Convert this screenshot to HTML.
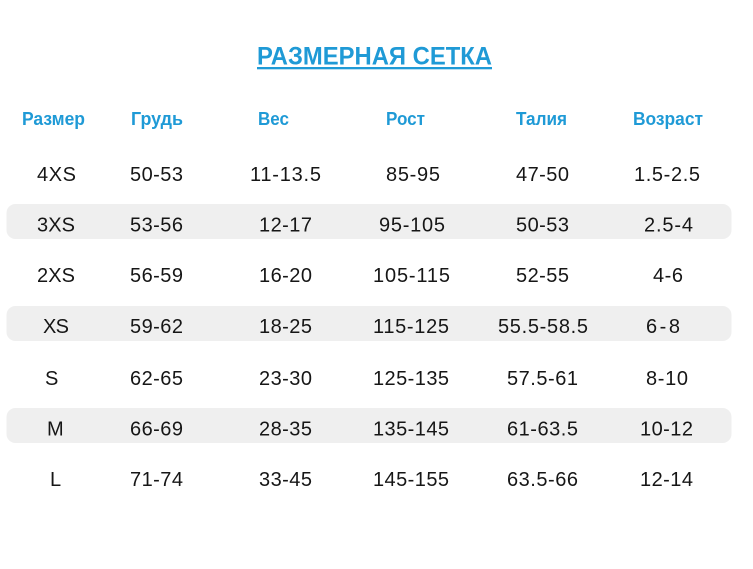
<!DOCTYPE html>
<html>
<head>
<meta charset="utf-8">
<style>
html,body{margin:0;padding:0;background:#fff;}
svg{display:block;}
.t{font-family:"Liberation Sans",sans-serif;font-weight:bold;fill:#1f9ad6;}
.h{font-family:"Liberation Sans",sans-serif;font-weight:bold;font-size:18px;fill:#1f9ad6;}
.d{font-family:"Liberation Sans",sans-serif;font-size:20px;fill:#161616;}
</style>
</head>
<body>
<svg width="753" height="569" viewBox="0 0 753 569" xmlns="http://www.w3.org/2000/svg">
<rect width="753" height="569" fill="#fff"/>
<!-- title -->
<text class="t" x="257" y="64.5" font-size="25" textLength="235" lengthAdjust="spacingAndGlyphs">РАЗМЕРНАЯ СЕТКА</text>
<rect x="257" y="67" width="235" height="2.3" fill="#1f9ad6"/>
<!-- gray rows -->
<rect x="6.5" y="204" width="725" height="35" rx="9" fill="#efefef"/>
<rect x="6.5" y="306" width="725" height="35" rx="9" fill="#efefef"/>
<rect x="6.5" y="408" width="725" height="35" rx="9" fill="#efefef"/>
<!-- headers -->
<text class="h" x="22" y="125" textLength="63" lengthAdjust="spacingAndGlyphs">Размер</text>
<text class="h" x="131" y="125" textLength="52" lengthAdjust="spacingAndGlyphs">Грудь</text>
<text class="h" x="258" y="125" textLength="31" lengthAdjust="spacingAndGlyphs">Вес</text>
<text class="h" x="386" y="125" textLength="39" lengthAdjust="spacingAndGlyphs">Рост</text>
<text class="h" x="516" y="125" textLength="51" lengthAdjust="spacingAndGlyphs">Талия</text>
<text class="h" x="633" y="125" textLength="70" lengthAdjust="spacingAndGlyphs">Возраст</text>
<g class="d">
<!-- row 1 -->
<text x="37" y="181" textLength="39" lengthAdjust="spacing">4XS</text>
<text x="130" y="181" textLength="53" lengthAdjust="spacing">50-53</text>
<text x="250" y="181" textLength="71" lengthAdjust="spacing">11-13.5</text>
<text x="386" y="181" textLength="54" lengthAdjust="spacing">85-95</text>
<text x="516" y="181" textLength="53" lengthAdjust="spacing">47-50</text>
<text x="634" y="181" textLength="66" lengthAdjust="spacing">1.5-2.5</text>
<!-- row 2 -->
<text x="37" y="231.5" textLength="38" lengthAdjust="spacing">3XS</text>
<text x="130" y="231.5" textLength="53" lengthAdjust="spacing">53-56</text>
<text x="259" y="231.5" textLength="53" lengthAdjust="spacing">12-17</text>
<text x="379" y="231.5" textLength="66" lengthAdjust="spacing">95-105</text>
<text x="516" y="231.5" textLength="53" lengthAdjust="spacing">50-53</text>
<text x="644" y="231.5" textLength="49" lengthAdjust="spacing">2.5-4</text>
<!-- row 3 -->
<text x="37" y="282" textLength="38" lengthAdjust="spacing">2XS</text>
<text x="130" y="282" textLength="53" lengthAdjust="spacing">56-59</text>
<text x="259" y="282" textLength="53" lengthAdjust="spacing">16-20</text>
<text x="373" y="282" textLength="77" lengthAdjust="spacing">105-115</text>
<text x="516" y="282" textLength="53" lengthAdjust="spacing">52-55</text>
<text x="653" y="282" textLength="30" lengthAdjust="spacing">4-6</text>
<!-- row 4 -->
<text x="43" y="333" textLength="26" lengthAdjust="spacing">XS</text>
<text x="130" y="333" textLength="53" lengthAdjust="spacing">59-62</text>
<text x="259" y="333" textLength="53" lengthAdjust="spacing">18-25</text>
<text x="373" y="333" textLength="76" lengthAdjust="spacing">115-125</text>
<text x="498" y="333" textLength="90" lengthAdjust="spacing">55.5-58.5</text>
<text x="646" y="333" textLength="34" lengthAdjust="spacing">6-8</text>
<!-- row 5 -->
<text x="45" y="385">S</text>
<text x="130" y="385" textLength="53" lengthAdjust="spacing">62-65</text>
<text x="259" y="385" textLength="53" lengthAdjust="spacing">23-30</text>
<text x="373" y="385" textLength="76" lengthAdjust="spacing">125-135</text>
<text x="507" y="385" textLength="71" lengthAdjust="spacing">57.5-61</text>
<text x="646" y="385" textLength="42" lengthAdjust="spacing">8-10</text>
<!-- row 6 -->
<text x="47" y="435.5">M</text>
<text x="130" y="435.5" textLength="53" lengthAdjust="spacing">66-69</text>
<text x="259" y="435.5" textLength="53" lengthAdjust="spacing">28-35</text>
<text x="373" y="435.5" textLength="76" lengthAdjust="spacing">135-145</text>
<text x="507" y="435.5" textLength="71" lengthAdjust="spacing">61-63.5</text>
<text x="640" y="435.5" textLength="53" lengthAdjust="spacing">10-12</text>
<!-- row 7 -->
<text x="50" y="486">L</text>
<text x="130" y="486" textLength="53" lengthAdjust="spacing">71-74</text>
<text x="259" y="486" textLength="53" lengthAdjust="spacing">33-45</text>
<text x="373" y="486" textLength="76" lengthAdjust="spacing">145-155</text>
<text x="507" y="486" textLength="71" lengthAdjust="spacing">63.5-66</text>
<text x="640" y="486" textLength="53" lengthAdjust="spacing">12-14</text>
</g>
</svg>
</body>
</html>
